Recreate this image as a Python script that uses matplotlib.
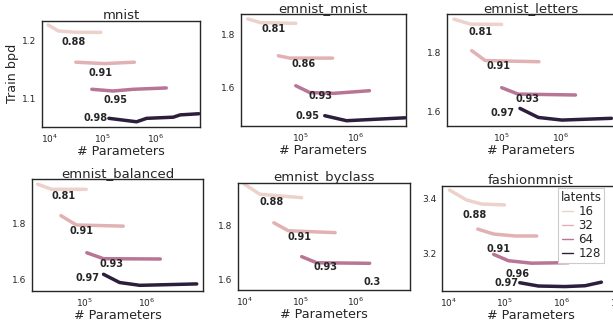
import matplotlib
matplotlib.use("Agg")
import matplotlib.pyplot as plt
from matplotlib.lines import Line2D
import numpy as np
import seaborn as sns

sns.set_style("white")
plt.rcParams["font.family"] = ["DejaVu Sans"]
plt.rcParams["text.color"] = ".15"
plt.rcParams["axes.labelcolor"] = ".15"
plt.rcParams["xtick.color"] = ".15"
plt.rcParams["ytick.color"] = ".15"

# ---- data -------------------------------------------------------------
datasets = ["mnist", "emnist_mnist", "emnist_letters",
            "emnist_balanced", "emnist_byclass", "fashionmnist"]
latents = [16, 32, 64, 128]

# parameter counts / train bpd per dataset, per latent size
mnist_x = [[9500, 14800, 31600, 93000],
           [31600, 107000, 398000],
           [63000, 158000, 380000, 1.58e6],
           [132000, 437000, 676000, 2.14e6, 2.88e6, 6.46e6]]
mnist_y = [[1.228, 1.2175, 1.2152, 1.215],
           [1.163, 1.1605, 1.163],
           [1.1157, 1.1127, 1.1157, 1.118],
           [1.065, 1.059, 1.065, 1.067, 1.071, 1.073]]

emnist_mnist_x = [[11400, 19500, 83000],
                  [40300, 64600, 380000],
                  [83000, 148000, 398000, 1.74e6],
                  [275000, 676000, 7.6e6]]
emnist_mnist_y = [[1.86, 1.8456, 1.8433],
                  [1.720, 1.711, 1.711],
                  [1.606, 1.580, 1.577, 1.587],
                  [1.492, 1.473, 1.484]]

emnist_letters_x = [[15500, 29500, 100000],
                    [31000, 52500, 427000],
                    [100000, 190000, 1.78e6],
                    [204000, 417000, 1.05e6, 7.24e6]]
emnist_letters_y = [[1.915, 1.898, 1.897],
                    [1.807, 1.773, 1.769],
                    [1.680, 1.658, 1.655],
                    [1.609, 1.578, 1.569, 1.575]]

emnist_balanced_x = [[17100, 28800, 104700],
                     [40700, 72400, 417000],
                     [107000, 199500, 1.66e6],
                     [199500, 363000, 776000, 6.46e6]]
emnist_balanced_y = [[1.938, 1.92, 1.92],
                     [1.827, 1.794, 1.79],
                     [1.696, 1.675, 1.674],
                     [1.62, 1.591, 1.581, 1.586]]

emnist_byclass_x = [[10000, 19000, 107000],
                    [33900, 61700, 427000],
                    [107000, 199500, 1.78e6],
                    []]
emnist_byclass_y = [[1.956, 1.918, 1.905],
                    [1.811, 1.781, 1.774],
                    [1.684, 1.661, 1.659],
                    []]

fashionmnist_x = [[10500, 20900, 38900, 97700],
                  [33100, 63100, 151000, 363000],
                  [63100, 115000, 295000, 1.32e6],
                  [182000, 389000, 1.15e6, 2.57e6, 5.01e6]]
fashionmnist_y = [[3.430, 3.394, 3.379, 3.376],
                  [3.288, 3.27, 3.263, 3.263],
                  [3.196, 3.173, 3.164, 3.166],
                  [3.093, 3.081, 3.079, 3.082, 3.095]]

# accuracy annotations: text, x, y
mnist_ann = [("0.88", 28400, 1.1977), ("0.91", 90200, 1.1436),
             ("0.95", 178000, 1.097), ("0.98", 74800, 1.065)]
emnist_mnist_ann = [("0.81", 33700, 1.8217), ("0.86", 113000, 1.6886),
                    ("0.93", 232000, 1.568), ("0.95", 134000, 1.492)]
emnist_letters_ann = [("0.81", 43400, 1.871), ("0.91", 87600, 1.7554),
                      ("0.93", 272000, 1.640), ("0.97", 104000, 1.5943)]
emnist_balanced_ann = [("0.81", 45700, 1.8964), ("0.91", 88400, 1.7739),
                       ("0.93", 264000, 1.6563), ("0.97", 109000, 1.608)]
emnist_byclass_ann = [("0.88", 31000, 1.8877), ("0.91", 97100, 1.7565),
                      ("0.93", 289000, 1.644), ("0.3", 1.99e6, 1.5878)]
fashionmnist_ann = [("0.88", 29600, 3.3393), ("0.91", 78300, 3.2145),
                    ("0.96", 165000, 3.1236), ("0.97", 107000, 3.0931)]

all_x = [mnist_x, emnist_mnist_x, emnist_letters_x,
         emnist_balanced_x, emnist_byclass_x, fashionmnist_x]
all_y = [mnist_y, emnist_mnist_y, emnist_letters_y,
         emnist_balanced_y, emnist_byclass_y, fashionmnist_y]
all_ann = [mnist_ann, emnist_mnist_ann, emnist_letters_ann,
           emnist_balanced_ann, emnist_byclass_ann, fashionmnist_ann]

# ---- layout (pixels: left, top, right, bottom) -------------------------
W, H = 613, 324
boxes = [(42, 20.7, 200, 126.7), (240.7, 14.3, 405.7, 125.7),
         (447.3, 14.3, 614.7, 125.7), (32, 179.3, 203.3, 291),
         (237.7, 183.3, 410, 290), (442.3, 185.7, 619.5, 291)]
xlims = [(3.863, 6.833), (3.930, 6.892), (4.078, 6.915),
         (4.141, 6.917), (3.881, 6.975), (3.894, 7.02)]
ylims = [(1.0504, 1.2354), (1.454, 1.8776), (1.5497, 1.9316),
         (1.561, 1.9553), (1.5589, 1.959), (3.0629, 3.4458)]
yticks = [[1.1, 1.2], [1.6, 1.8], [1.6, 1.8], [1.6, 1.8], [1.6, 1.8], [3.2, 3.4]]
xticks = [[1e4, 1e5, 1e6], [1e5, 1e6], [1e5, 1e6], [1e5, 1e6],
          [1e4, 1e5, 1e6], [1e4, 1e5, 1e6, 1e7]]

cmap = sns.cubehelix_palette(as_cmap=True)
norm = plt.Normalize(min(latents), max(latents))

fig = plt.figure(figsize=(W / 100, H / 100), dpi=100)

for i, name in enumerate(datasets):
    l, t, r, b = boxes[i]
    ax = fig.add_axes([l / W, 1 - b / H, (r - l) / W, (b - t) / H])
    for j, lat in enumerate(latents):
        if len(all_x[i][j]) == 0:
            continue
        ax.plot(all_x[i][j], all_y[i][j], color=cmap(norm(lat)), lw=2.5,
                solid_capstyle="round")
    for txt, tx, ty in all_ann[i]:
        ax.text(tx, ty, txt, fontsize=7, fontweight="bold",
                ha="center", va="center", color=".15")
    ax.set_xscale("log")
    ax.set_xlim(10 ** xlims[i][0], 10 ** xlims[i][1])
    ax.set_ylim(*ylims[i])
    ax.set_xticks(xticks[i])
    ax.xaxis.set_minor_locator(matplotlib.ticker.NullLocator())
    ax.set_yticks(yticks[i])
    ax.tick_params(labelsize=6.5, length=0, pad=4)
    ax.set_title(name, fontsize=9.5, pad=1.5)
    ax.set_xlabel("# Parameters", fontsize=9.2, labelpad=0)
    for s in ax.spines.values():
        s.set_color(".15")
        s.set_linewidth(1.0)
    if i == 0:
        ax.set_ylabel("Train bpd", fontsize=9.2, labelpad=2)
    if i == 5:
        handles = [Line2D([], [], color=cmap(norm(lat)), lw=1.0) for lat in latents]
        leg = ax.legend(handles, [str(v) for v in latents], title="latents",
                        loc="upper right", bbox_to_anchor=(0.9125, 0.975),
                        borderaxespad=0, fontsize=8.5, title_fontsize=8.5,
                        handlelength=1.0, handletextpad=0.4, labelspacing=0.1,
                        borderpad=0.2, fancybox=False, framealpha=1)
        leg.get_frame().set_edgecolor("0.8")
        leg.get_frame().set_linewidth(0.8)

fig.savefig("out.png", dpi=100)
